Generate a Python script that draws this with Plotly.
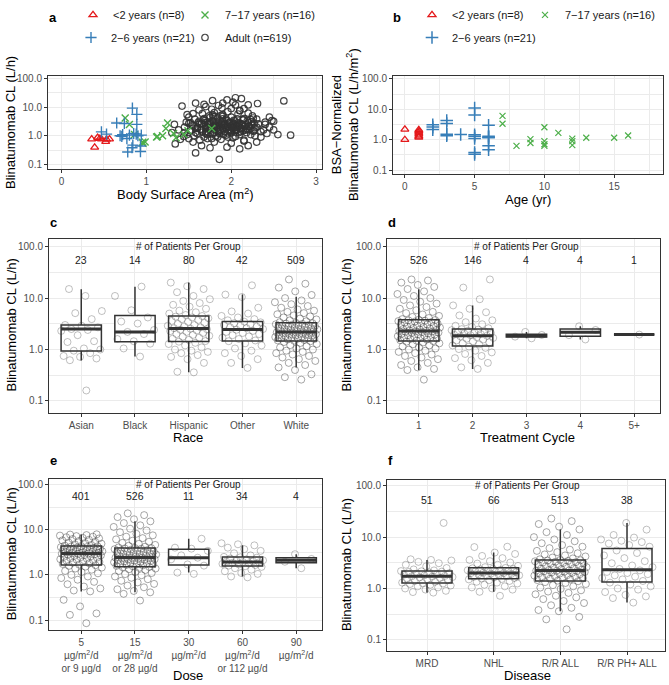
import plotly.graph_objects as go

W, H = 669, 685

# ---------------- Panel a: CL vs BSA ----------------
a_lt2_bsa = [0.355, 0.39, 0.425, 0.45, 0.47, 0.52, 0.53, 0.565]
a_lt2_cl = [0.76, 0.39, 0.87, 0.80, 0.76, 0.62, 0.75, 0.76]
a_26_bsa = [0.835, 0.887, 0.65, 0.74, 0.887, 0.47, 0.53, 0.69, 0.72, 0.77, 0.85,
            0.88, 0.94, 0.84, 0.93, 0.78, 0.93, 0.83, 0.71, 0.90, 0.80]
a_26_cl = [9.3, 5.6, 2.8, 2.7, 2.5, 1.37, 1.14, 1.0, 1.1, 0.8, 1.2,
           1.15, 1.05, 0.47, 0.44, 0.27, 0.28, 0.38, 0.95, 1.0, 1.05]
a_717_bsa = [0.75, 0.80, 0.86, 0.955, 0.985, 0.96, 1.12, 1.13, 1.19, 1.23, 1.25,
             1.32, 1.35, 1.44, 1.49, 1.77]
a_717_cl = [4.2, 2.5, 1.1, 0.59, 0.60, 0.55, 0.90, 0.95, 1.0, 1.8, 2.8,
            1.2, 0.85, 1.1, 1.5, 1.8]
adult_bsa = [1.42, 1.58, 1.86, 1.58, 2.31, 2.62, 2.70, 2.55, 2.50, 2.48, 1.34, 1.30, 1.33, 1.38,
             1.40, 2.12, 1.95, 2.05, 1.78, 1.90, 2.20, 2.40, 2.42, 2.35, 2.30, 2.20, 2.10, 1.95,
             1.75, 1.65, 1.55, 1.50, 1.48, 1.45, 1.47, 1.50, 1.55, 1.62, 1.70, 1.85, 2.00, 2.10,
             2.25, 2.30, 2.45, 2.38, 2.28, 2.15, 2.00, 1.80,
             1.60, 1.60, 1.62, 1.65, 1.65, 1.68, 1.68, 1.70, 1.70, 1.72, 1.72, 1.74, 1.75, 1.75,
             1.77, 1.78, 1.80, 1.80, 1.80, 1.82, 1.82, 1.84, 1.84, 1.86, 1.86, 1.88, 1.88, 1.90,
             1.90, 1.92, 1.92, 1.94, 1.94, 1.96, 1.96, 1.98, 1.98, 2.00, 2.00, 2.02, 2.02, 2.04,
             2.06, 2.06, 2.08, 2.10, 2.10, 2.12, 2.14, 2.16, 2.18, 2.20, 2.22, 2.24, 2.26, 2.28,
             2.32, 2.35,
             1.52, 1.54, 1.56, 1.57, 1.58, 1.63, 1.66, 1.69, 1.73, 1.76, 1.79, 1.81, 1.83, 1.85,
             1.87, 1.89, 1.91, 1.93, 1.95, 1.97, 1.99, 2.01, 2.03, 2.05, 2.07, 2.09, 2.11, 2.13,
             2.17, 2.19, 2.21, 2.23, 2.27, 1.45, 1.44, 1.52, 1.48, 1.77, 1.89, 2.05, 2.15, 2.02,
             1.68, 2.45, 2.50, 2.40,
             1.55, 1.58, 1.61, 1.64, 1.67, 1.70, 1.73, 1.76, 1.79, 1.82, 1.85, 1.88, 1.91, 1.94,
             1.97, 2.00, 2.03, 2.06, 2.09, 2.12, 2.15, 2.18, 2.21, 2.24, 2.27, 2.30,
             1.60, 1.63, 1.66, 1.69, 1.72, 1.75, 1.78, 1.81, 1.84, 1.87, 1.90, 1.93, 1.96, 1.99,
             2.02, 2.05, 2.08, 2.11, 2.14, 2.17, 2.20, 2.23, 2.26,
             1.65, 1.70, 1.75, 1.80, 1.85, 1.90, 1.95, 2.00, 2.05, 2.10, 2.15, 2.20,
             1.72, 1.78, 1.84, 1.90, 1.96, 2.02, 2.08, 2.14,
             1.50, 1.42, 2.33, 2.37, 2.43]
adult_cl = [11.0, 14.0, 0.15, 0.25, 13.5, 16.6, 1.05, 1.1, 3.2, 3.4, 0.52, 1.3, 2.5, 1.6,
            0.75, 20.0, 18.0, 21.5, 17.0, 14.0, 12.0, 2.5, 1.2, 0.9, 0.6, 0.45, 0.35, 0.4,
            0.38, 0.45, 0.6, 0.8, 1.1, 2.0, 3.0, 4.5, 6.0, 8.0, 10.5, 11.5, 9.0, 7.5,
            5.0, 3.8, 2.0, 1.6, 1.0, 0.7, 0.55, 0.6,
            1.2, 2.0, 3.2, 1.6, 2.6, 0.9, 4.0, 1.4, 2.2, 3.0, 1.1, 5.0, 1.8, 2.5,
            0.8, 3.5, 1.3, 2.0, 6.5, 2.8, 1.0, 1.6, 4.2, 2.3, 1.2, 3.1, 0.75, 1.9,
            5.5, 2.6, 1.4, 3.8, 1.05, 2.1, 7.0, 1.7, 2.9, 1.25, 4.5, 2.4, 0.85, 3.3,
            1.5, 2.0, 5.8, 2.7, 1.1, 1.8, 3.6, 2.2, 1.3, 2.9, 1.7, 2.4, 4.2, 1.9,
            2.6, 1.4,
            1.5, 2.4, 1.0, 3.8, 1.8, 0.7, 6.0, 2.9, 2.0, 1.2, 4.6, 2.4, 1.8, 3.0,
            1.5, 2.6, 1.1, 2.0, 3.4, 1.5, 2.2, 1.9, 2.7, 1.6, 3.9, 2.1, 1.4, 2.5,
            1.6, 3.3, 2.1, 1.1, 2.8, 1.3, 0.95, 2.9, 5.5, 8.5, 9.5, 12.0, 9.0, 15.0,
            12.5, 4.5, 1.6, 3.0,
            2.2, 1.3, 2.9, 1.7, 3.6, 1.2, 2.5, 1.6, 3.2, 2.1, 1.4, 5.2, 2.4, 1.9,
            2.8, 1.5, 3.5, 2.3, 1.3, 2.6, 4.0, 1.8, 2.2, 3.1, 1.5, 2.0,
            1.8, 2.6, 1.35, 3.4, 1.9, 2.8, 1.15, 4.8, 2.2, 1.7, 3.9, 2.5, 1.25, 3.0,
            2.0, 1.6, 2.9, 1.9, 3.6,
            2.4, 1.6, 3.7, 1.45, 2.7, 1.75, 4.4, 2.3, 1.35, 3.2, 2.05, 1.55,
            0.95, 7.8, 0.65, 6.2, 0.8, 5.4, 0.9, 4.8,
            0.9, 1.8, 2.2, 1.5, 2.7]

# ---------------- Panel b: BSA-normalized CL vs age ----------------
b_lt2_age = [0, 0, 1, 1, 1, 1, 1, 1]
b_lt2_cl = [2.2, 1.0, 2.1, 1.9, 1.7, 1.5, 1.3, 1.2]
b_26_age = [2, 2, 2, 3, 3, 3, 3, 4, 5, 5, 5, 5, 5, 5, 5, 6, 6, 6, 6, 6, 6]
b_26_cl = [3.1, 2.6, 2.15, 4.3, 3.4, 1.5, 1.35, 1.48, 11.0, 6.5, 1.45, 1.3, 1.1, 0.38, 0.33,
           3.0, 1.3, 1.2, 1.16, 0.63, 0.47]
b_717_age = [7, 7, 8, 9, 9, 10, 10, 10, 10, 11, 12, 12, 12, 13, 15, 16]
b_717_cl = [6.1, 3.35, 0.63, 1.05, 0.78, 2.57, 0.9, 0.71, 0.63, 1.68, 1.08, 0.9, 0.66, 1.16,
            1.16, 1.37]

legend_a = ["<2 years (n=8)", "7\u221217 years (n=16)", "2\u22126 years (n=21)", "Adult (n=619)"]

# ---------------- Panel c: Race ----------------
race_cats = ["Asian", "Black", "Hispanic", "Other", "White"]
race_n = ["23", "14", "80", "42", "509"]
race_q1 = [0.94, 1.42, 1.44, 1.47, 1.47]
race_med = [2.5, 2.2, 2.55, 2.45, 2.2]
race_q3 = [3.0, 4.6, 4.5, 3.5, 3.3]
race_lo = [0.61, 0.73, 0.36, 0.44, 0.45]
race_hi = [14.9, 16.7, 20.0, 11.7, 10.6]
race_asian = [0.16, 0.62, 0.67, 0.72, 0.75, 0.85, 0.95, 1.0, 1.05, 1.4, 1.45, 1.9, 2.3, 2.4,
              2.5, 2.7, 2.9, 3.0, 3.9, 5.1, 5.6, 11.0, 15.0]
race_black = [0.73, 1.05, 1.3, 1.45, 1.6, 2.0, 2.2, 2.4, 3.2, 3.5, 4.2, 5.8, 11.0, 16.7]
race_hispanic = [0.36, 0.37, 0.55, 0.65, 0.72, 0.78, 0.85, 0.9, 0.95, 1.0, 1.1, 1.2, 1.28, 1.35, 1.42,
                 1.46, 1.55, 1.62, 1.7, 1.78, 1.85, 1.92, 2.0, 2.1, 2.2, 2.28, 2.35, 2.42, 2.48, 2.54,
                 2.6, 2.7, 2.8, 2.9, 3.0, 3.15, 3.3, 3.45, 3.6, 3.75, 3.9, 4.05, 4.2, 4.35, 4.48,
                 4.7, 5.0, 5.3, 5.7, 6.2, 6.8, 7.4, 8.0, 8.8, 9.5, 11.0, 13.0, 15.0, 17.0, 20.0]
race_other = [0.44, 0.55, 0.65, 0.75, 0.85, 0.95, 1.05, 1.2, 1.32, 1.45,
              1.5, 1.6, 1.7, 1.8, 1.9, 2.0, 2.1, 2.2, 2.3, 2.42,
              2.5, 2.6, 2.7, 2.8, 2.9, 3.0, 3.1, 3.25, 3.38, 3.48,
              3.7, 3.9, 4.2, 4.5, 5.0, 5.5, 6.5, 10.5, 11.7, 17.7]
race_white = [0.26, 0.29, 0.33, 0.4, 0.45, 0.5, 0.55, 0.6, 0.65, 0.7, 0.75, 0.8, 0.85, 0.9, 0.95,
              1.0, 1.05, 1.1, 1.16, 1.22, 1.28, 1.34, 1.4, 1.45,
              1.48, 1.51, 1.54, 1.57, 1.6, 1.63, 1.66, 1.69, 1.72, 1.75, 1.78, 1.81, 1.84, 1.87,
              1.9, 1.93, 1.96, 1.99, 2.02, 2.06, 2.1, 2.13, 2.16, 2.19,
              2.22, 2.26, 2.3, 2.34, 2.38, 2.42, 2.46, 2.5, 2.55, 2.6, 2.65, 2.7, 2.75, 2.8,
              2.85, 2.9, 2.95, 3.0, 3.05, 3.1, 3.15, 3.2, 3.25, 3.29,
              3.4, 3.55, 3.7, 3.85, 4.0, 4.2, 4.4, 4.6, 4.85, 5.1, 5.4, 5.7, 6.0, 6.5, 7.0,
              7.6, 8.3, 9.0, 10.0, 11.5, 13.5, 16.0, 19.0, 23.0]

# ---------------- Panel d: Treatment cycle ----------------
cyc_cats = ["1", "2", "3", "4", "5+"]
cyc_n = ["526", "146", "4", "4", "1"]
cyc_q1 = [1.46, 1.17, 1.75, 1.82, 1.95]
cyc_med = [2.3, 1.86, 1.85, 2.16, 1.95]
cyc_q3 = [3.8, 2.5, 1.99, 2.5, 1.95]
cyc_lo = [0.40, 0.42, 1.65, 1.57, 1.95]
cyc_hi = [14.9, 7.2, 2.2, 2.83, 1.95]
cyc_1 = [0.26, 0.4, 0.42, 0.45, 0.5, 0.55, 0.6, 0.65, 0.7, 0.75, 0.8, 0.85, 0.9, 0.95, 1.0,
         1.05, 1.1, 1.15, 1.2, 1.26, 1.32, 1.37, 1.42, 1.46,
         1.49, 1.52, 1.56, 1.6, 1.63, 1.67, 1.7, 1.74, 1.78, 1.82, 1.86, 1.9, 1.94, 1.98,
         2.02, 2.06, 2.1, 2.14, 2.18, 2.21, 2.24, 2.26, 2.28, 2.3,
         2.34, 2.39, 2.44, 2.5, 2.56, 2.62, 2.68, 2.74, 2.8, 2.86, 2.93, 3.0, 3.07, 3.14,
         3.21, 3.28, 3.35, 3.42, 3.5, 3.57, 3.63, 3.69, 3.74, 3.79,
         3.9, 4.1, 4.3, 4.5, 4.8, 5.1, 5.4, 5.8, 6.2, 6.7, 7.2, 7.8, 8.5, 9.2, 10.0, 11.0,
         12.0, 13.5, 15.0, 16.5, 18.0, 20.0, 22.0, 23.0]
cyc_2 = [0.42, 0.45, 0.55, 0.62, 0.68, 0.75, 0.82, 0.88, 0.95, 1.02, 1.08, 1.14,
         1.2, 1.26, 1.32, 1.38, 1.44, 1.5, 1.56, 1.62, 1.68, 1.74, 1.8, 1.85,
         1.9, 1.95, 2.0, 2.05, 2.1, 2.15, 2.2, 2.26, 2.32, 2.38, 2.44, 2.49,
         2.6, 2.75, 2.9, 3.1, 3.4, 3.7, 4.0, 4.6, 5.3, 6.2, 7.2, 9.5, 16.0, 23.0]
cyc_3 = [1.65, 1.78, 1.92, 2.2]
cyc_4 = [1.57, 1.9, 2.4, 2.83]
cyc_5 = [1.95]

# ---------------- Panel e: Dose ----------------
dose_cats = ["5<br>\u00b5g/m<sup>2</sup>/d<br>or 9 \u00b5g/d",
             "15<br>\u00b5g/m<sup>2</sup>/d<br>or 28 \u00b5g/d",
             "30<br>\u00b5g/m<sup>2</sup>/d",
             "60<br>\u00b5g/m<sup>2</sup>/d<br>or 112 \u00b5g/d",
             "90<br>\u00b5g/m<sup>2</sup>/d"]
dose_n = ["401", "526", "11", "34", "4"]
dose_q1 = [1.65, 1.52, 1.65, 1.57, 1.86]
dose_med = [2.97, 2.43, 2.39, 1.92, 2.1]
dose_q3 = [4.37, 3.95, 3.7, 2.47, 2.39]
dose_lo = [0.43, 0.41, 1.12, 0.92, 1.4]
dose_hi = [7.85, 15.3, 6.3, 4.5, 2.87]
dose_5 = [0.085, 0.13, 0.14, 0.2, 0.28, 0.43, 0.45, 0.5, 0.55, 0.62, 0.7, 0.78, 0.85, 0.92,
          1.0, 1.08, 1.15, 1.22, 1.3, 1.38, 1.45, 1.52, 1.58, 1.63,
          1.68, 1.74, 1.8, 1.86, 1.92, 1.98, 2.04, 2.1, 2.16, 2.22, 2.28, 2.34, 2.4, 2.46,
          2.52, 2.58, 2.64, 2.7, 2.75, 2.8, 2.85, 2.9, 2.93, 2.96,
          3.0, 3.05, 3.1, 3.15, 3.2, 3.26, 3.32, 3.38, 3.44, 3.5, 3.56, 3.62, 3.68, 3.74,
          3.8, 3.86, 3.92, 3.98, 4.04, 4.1, 4.16, 4.22, 4.28, 4.34,
          4.45, 4.6, 4.75, 4.9, 5.05, 5.2, 5.4, 5.6, 5.8, 6.0, 6.2, 6.4, 6.6, 6.8, 7.0,
          7.2, 7.4, 7.6, 7.8, 7.9]
dose_15 = [0.27, 0.38, 0.41, 0.44, 0.48, 0.53, 0.58, 0.63, 0.68, 0.74, 0.8, 0.86, 0.92, 0.98,
           1.04, 1.1, 1.16, 1.22, 1.28, 1.33, 1.38, 1.43, 1.47, 1.5,
           1.54, 1.58, 1.62, 1.66, 1.7, 1.74, 1.78, 1.82, 1.86, 1.9, 1.94, 1.98, 2.02, 2.06,
           2.1, 2.14, 2.18, 2.22, 2.26, 2.3, 2.34, 2.37, 2.4, 2.42,
           2.46, 2.52, 2.58, 2.64, 2.7, 2.76, 2.82, 2.88, 2.94, 3.0, 3.06, 3.12, 3.18, 3.24,
           3.3, 3.38, 3.46, 3.54, 3.62, 3.7, 3.78, 3.85, 3.9, 3.94,
           4.05, 4.2, 4.4, 4.6, 4.85, 5.1, 5.4, 5.7, 6.1, 6.5, 7.0, 7.5, 8.1, 8.8, 9.6, 10.5,
           11.5, 12.5, 14.0, 15.3, 17.0, 19.0, 21.0, 23.0]
dose_30 = [1.05, 1.12, 1.6, 1.7, 2.2, 2.4, 2.7, 3.4, 3.8, 4.0, 6.3]
dose_60 = [0.88, 0.92, 1.05, 1.1, 1.2, 1.3, 1.4, 1.5, 1.55, 1.6, 1.65, 1.7, 1.75, 1.8, 1.85,
           1.9, 1.93, 1.97, 2.0, 2.05, 2.1, 2.2, 2.3, 2.4, 2.45, 2.5, 2.7, 3.0, 3.4, 3.7,
           4.0, 4.5, 4.75, 5.0]
dose_90 = [1.4, 1.95, 2.25, 2.87]

# ---------------- Panel f: Disease ----------------
dis_cats = ["MRD", "NHL", "R/R ALL", "R/R PH+ ALL"]
dis_n = ["51", "66", "513", "38"]
dis_q1 = [1.28, 1.55, 1.4, 1.34]
dis_med = [1.72, 2.0, 2.24, 2.31]
dis_q3 = [2.18, 2.52, 3.6, 6.0]
dis_lo = [0.83, 0.86, 0.36, 0.53]
dis_hi = [3.6, 5.0, 14.1, 18.9]
dis_mrd = [0.83, 0.85, 0.9, 0.95, 1.0, 1.05, 1.1, 1.14, 1.18, 1.22, 1.25, 1.27,
           1.3, 1.35, 1.4, 1.45, 1.5, 1.55, 1.6, 1.64, 1.67, 1.7, 1.72,
           1.75, 1.8, 1.85, 1.9, 1.95, 2.0, 2.05, 2.1, 2.13, 2.16, 2.18,
           2.25, 2.35, 2.5, 2.7, 2.9, 3.1, 3.3, 3.5, 3.6, 3.7, 18.9]
dis_nhl = [0.72, 0.86, 0.95, 1.0, 1.05, 1.1, 1.18, 1.25, 1.3, 1.35, 1.4, 1.45, 1.5, 1.53,
           1.57, 1.6, 1.64, 1.68, 1.72, 1.76, 1.8, 1.84, 1.88, 1.92, 1.95, 1.98, 2.0,
           2.03, 2.07, 2.11, 2.15, 2.19, 2.23, 2.27, 2.31, 2.35, 2.39, 2.43, 2.47, 2.51,
           2.6, 2.75, 2.9, 3.05, 3.2, 3.4, 3.6, 3.9, 4.3, 4.7, 5.0, 6.4, 6.5]
dis_rrall = [0.16, 0.25, 0.28, 0.36, 0.38, 0.42, 0.47, 0.52, 0.57, 0.62, 0.67, 0.72, 0.77, 0.82,
             0.87, 0.92, 0.98, 1.04, 1.1, 1.16, 1.22, 1.28, 1.33, 1.38,
             1.42, 1.46, 1.5, 1.54, 1.58, 1.62, 1.66, 1.7, 1.74, 1.78, 1.82, 1.86, 1.9, 1.94,
             1.98, 2.02, 2.06, 2.09, 2.12, 2.15, 2.18, 2.2, 2.22, 2.24,
             2.28, 2.33, 2.38, 2.43, 2.48, 2.54, 2.6, 2.66, 2.72, 2.78, 2.84, 2.9, 2.96, 3.02,
             3.08, 3.14, 3.2, 3.26, 3.32, 3.38, 3.44, 3.5, 3.55, 3.59,
             3.7, 3.85, 4.0, 4.2, 4.4, 4.6, 4.85, 5.1, 5.4, 5.7, 6.1, 6.5, 7.0, 7.6, 8.3,
             9.0, 10.0, 11.0, 12.5, 14.1, 16.0, 18.0, 20.5, 23.0]
dis_phall = [0.53, 0.65, 0.7, 0.75, 0.85, 0.95, 1.0, 1.1, 1.2, 1.3,
             1.4, 1.5, 1.6, 1.7, 1.8, 1.9, 2.0, 2.1, 2.25,
             2.4, 2.6, 2.8, 3.1, 3.4, 3.9, 4.4, 4.9, 5.5,
             6.5, 7.0, 7.5, 8.0, 8.5, 9.0, 9.8, 11.0, 14.0, 18.9]

# ================= styling =================
FONT = "Liberation Sans, Arial, sans-serif"
GRID = "#EBEBEB"
BORDER = "#333333"
TICKC = "#4D4D4D"
RED = "#E41A1C"
BLUE = "#377EB8"
GREEN = "#4DAF4A"


def dom_x(l, r):
    return [l / W, r / W]


def dom_y(t, b):
    return [1 - b / H, 1 - t / H]


def jitter(n, half=0.4):
    return [(((k + 1) * 0.6180339887) % 1.0 - 0.5) * 2 * half for k in range(n)]


def log_axis(domain, rng, anchor):
    return dict(domain=domain, type="log", range=rng, anchor=anchor,
                tickvals=[0.1, 1, 10, 100], ticktext=["0.1", "1.0", "10.0", "100.0"],
                showgrid=True, gridcolor=GRID, gridwidth=1,
                minor=dict(tickvals=[0.316228, 3.16228, 31.6228], showgrid=True,
                           gridcolor=GRID, gridwidth=0.6, ticks=""),
                showline=True, linecolor=BORDER, linewidth=1, mirror=True,
                ticks="outside", ticklen=3, tickcolor=BORDER,
                tickfont=dict(size=10, color=TICKC, family=FONT), zeroline=False)


def lin_axis(domain, rng, anchor, tickvals, ticktext, minor_vals=None):
    d = dict(domain=domain, range=rng, anchor=anchor, tickmode="array",
             tickvals=tickvals, ticktext=ticktext,
             showgrid=True, gridcolor=GRID, gridwidth=1,
             showline=True, linecolor=BORDER, linewidth=1, mirror=True,
             ticks="outside", ticklen=3, tickcolor=BORDER,
             tickfont=dict(size=10, color=TICKC, family=FONT), zeroline=False)
    if minor_vals:
        d["minor"] = dict(tickvals=minor_vals, showgrid=True, gridcolor=GRID,
                          gridwidth=0.6, ticks="")
    return d


fig = go.Figure()

# ---- panel a traces ----
fig.add_trace(go.Scatter(x=adult_bsa, y=adult_cl, mode="markers", name=legend_a[3],
                         marker=dict(symbol="circle-open", size=6.5, color="rgba(50,50,50,0.9)",
                                     line=dict(width=1.2)),
                         xaxis="x", yaxis="y", legend="legend4"))
fig.add_trace(go.Scatter(x=a_lt2_bsa, y=a_lt2_cl, mode="markers", name=legend_a[0],
                         marker=dict(symbol="triangle-up-open", color=RED, size=7,
                                     line=dict(width=1.3)),
                         xaxis="x", yaxis="y", legend="legend"))
fig.add_trace(go.Scatter(x=a_717_bsa, y=a_717_cl, mode="markers", name=legend_a[1],
                         marker=dict(symbol="x-thin-open", color=GREEN, size=7, line=dict(width=1.4)),
                         xaxis="x", yaxis="y", legend="legend2"))
fig.add_trace(go.Scatter(x=a_26_bsa, y=a_26_cl, mode="markers", name=legend_a[2],
                         marker=dict(symbol="cross-thin-open", color=BLUE, size=8, line=dict(width=1.4)),
                         xaxis="x", yaxis="y", legend="legend3"))

# ---- panel b traces ----
fig.add_trace(go.Scatter(x=b_lt2_age, y=b_lt2_cl, mode="markers", name=legend_a[0],
                         marker=dict(symbol="triangle-up-open", color=RED, size=7,
                                     line=dict(width=1.3)),
                         xaxis="x2", yaxis="y2", legend="legend5"))
fig.add_trace(go.Scatter(x=b_717_age, y=b_717_cl, mode="markers", name=legend_a[1],
                         marker=dict(symbol="x-thin-open", color=GREEN, size=6, line=dict(width=1.2)),
                         xaxis="x2", yaxis="y2", legend="legend6"))
fig.add_trace(go.Scatter(x=b_26_age, y=b_26_cl, mode="markers", name=legend_a[2],
                         marker=dict(symbol="cross-thin-open", color=BLUE, size=9, line=dict(width=1.5)),
                         xaxis="x2", yaxis="y2", legend="legend7"))


# ---- box panels ----
def box_panel(xa, ya, q1, med, q3, lo, hi, groups, ns):
    xs = list(range(len(q1)))
    fig.add_trace(go.Box(x=xs, q1=q1, median=med, q3=q3, lowerfence=lo, upperfence=hi,
                         width=0.75, fillcolor="white", line=dict(color=BORDER, width=1.5),
                         whiskerwidth=0, boxpoints=False, showlegend=False,
                         hoverinfo="skip", xaxis=xa, yaxis=ya))
    mx, my = [], []
    for i, m in enumerate(med):
        mx += [i - 0.375, i + 0.375, None]
        my += [m, m, None]
    fig.add_trace(go.Scatter(x=mx, y=my, mode="lines", line=dict(color=BORDER, width=3),
                             showlegend=False, hoverinfo="skip", xaxis=xa, yaxis=ya))
    for i, g in enumerate(groups):
        off = jitter(len(g))
        alpha = 0.45 if int(ns[i]) >= 300 else 0.32
        fig.add_trace(go.Scatter(x=[i + o for o in off], y=g, mode="markers",
                                 marker=dict(symbol="circle-open", size=7,
                                             color=f"rgba(60,60,60,{alpha})",
                                             line=dict(width=1)),
                                 showlegend=False, hoverinfo="skip", xaxis=xa, yaxis=ya))


box_panel("x3", "y3", race_q1, race_med, race_q3, race_lo, race_hi,
          [race_asian, race_black, race_hispanic, race_other, race_white], race_n)
box_panel("x4", "y4", cyc_q1, cyc_med, cyc_q3, cyc_lo, cyc_hi,
          [cyc_1, cyc_2, cyc_3, cyc_4, cyc_5], cyc_n)
box_panel("x5", "y5", dose_q1, dose_med, dose_q3, dose_lo, dose_hi,
          [dose_5, dose_15, dose_30, dose_60, dose_90], dose_n)
box_panel("x6", "y6", dis_q1, dis_med, dis_q3, dis_lo, dis_hi,
          [dis_mrd, dis_nhl, dis_rrall, dis_phall], dis_n)

# ================= layout =================
leg_common = dict(orientation="h", font=dict(size=11, family=FONT, color="#1A1A1A"),
                  bgcolor="rgba(0,0,0,0)", borderwidth=0, xanchor="left", yanchor="middle",
                  itemclick=False, itemdoubleclick=False)


def leg(xpx, ypx):
    return dict(x=xpx / W, y=1 - ypx / H, **leg_common)


layout = dict(
    width=W, height=H, margin=dict(l=0, r=0, t=0, b=0),
    paper_bgcolor="white", plot_bgcolor="white",
    font=dict(family=FONT, color="#1A1A1A"),
    showlegend=True,
    legend=leg(73, 5), legend2=leg(185, 5), legend3=leg(71, 28), legend4=leg(185, 28),
    legend5=leg(412, 5), legend6=leg(525, 5), legend7=leg(412, 28),
    xaxis=lin_axis(dom_x(48, 322), [-0.16, 3.07], "y", [0, 1, 2, 3], ["0", "1", "2", "3"],
                   [0.5, 1.5, 2.5]),
    yaxis=log_axis(dom_y(67, 162), [-1.17, 2.1], "x"),
    xaxis2=lin_axis(dom_x(393, 663), [-0.85, 18.5], "y2", [0, 5, 10, 15], ["0", "5", "10", "15"],
                    [2.5, 7.5, 12.5, 17.5]),
    yaxis2=log_axis(dom_y(67, 167), [-1.13, 2.1], "x2"),
    xaxis3=lin_axis(dom_x(49, 322), [-0.6, 4.48], "y3", list(range(5)), race_cats),
    yaxis3=log_axis(dom_y(233, 410), [-1.23, 2.15], "x3"),
    xaxis4=lin_axis(dom_x(387, 660), [-0.59, 4.48], "y4", list(range(5)), cyc_cats),
    yaxis4=log_axis(dom_y(233, 410), [-1.23, 2.15], "x4"),
    xaxis5=lin_axis(dom_x(49, 322), [-0.6, 4.48], "y5", list(range(5)), dose_cats),
    yaxis5=log_axis(dom_y(477, 631), [-1.22, 2.13], "x5"),
    xaxis6=lin_axis(dom_x(387, 665), [-0.6, 3.57], "y6", list(range(4)), dis_cats),
    yaxis6=log_axis(dom_y(478, 652), [-1.21, 2.12], "x6"),
)
fig.update_layout(**layout)

ann = []


def paper_text(text, x, y, size=13, angle=0, bold=False, color="#000000"):
    ann.append(dict(text=f"<b>{text}</b>" if bold else text, x=x / W, y=1 - y / H,
                    xref="paper", yref="paper", showarrow=False, textangle=angle,
                    xanchor="center", yanchor="middle",
                    font=dict(size=size, family=FONT, color=color)))


# panel letters
for letter, x, y in [("a", 53, 8), ("b", 397, 8), ("c", 53, 216), ("d", 392, 216),
                     ("e", 53, 459), ("f", 390, 459)]:
    paper_text(letter, x, y, size=13, bold=True)

# axis titles
paper_text("Body Surface Area (m<sup>2</sup>)", 185, 187)
paper_text("Age (yr)", 528, 193)
paper_text("Race", 188, 435)
paper_text("Treatment Cycle", 527, 435)
paper_text("Dose", 188, 677)
paper_text("Disease", 527, 677)
paper_text("Blinatumomab CL (L/h)", 11, 115, angle=-90)
paper_text("BSA\u2212Normalized<br>Blinatumomab CL (L/h/m<sup>2</sup>)", 345, 117, angle=-90)
paper_text("Blinatumomab CL (L/h)", 11, 321, angle=-90)
paper_text("Blinatumomab CL (L/h)", 346, 321, angle=-90)
paper_text("Blinatumomab CL (L/h)", 11, 554, angle=-90)
paper_text("Blinatumomab CL (L/h)", 346, 565, angle=-90)


# per-group counts
def counts(xa, ya, ns, ycount):
    center = (len(ns) - 1) / 2
    ann.append(dict(text="# of Patients Per Group", x=center, y=2.0, xref=xa, yref=ya,
                    showarrow=False, xanchor="center", yanchor="middle",
                    font=dict(size=10, family=FONT, color="#1A1A1A")))
    for i, n in enumerate(ns):
        ann.append(dict(text=n, x=i, y=ycount, xref=xa, yref=ya, showarrow=False,
                        xanchor="center", yanchor="middle",
                        font=dict(size=10.5, family=FONT, color="#1A1A1A")))


counts("x3", "y3", race_n, 1.74)
counts("x4", "y4", cyc_n, 1.74)
counts("x5", "y5", dose_n, 1.74)
counts("x6", "y6", dis_n, 1.73)

fig.update_layout(annotations=ann)
fig.write_html("out.html", config={"displayModeBar": False},
               post_script="document.body.style.margin='0';document.body.style.padding='0';")
